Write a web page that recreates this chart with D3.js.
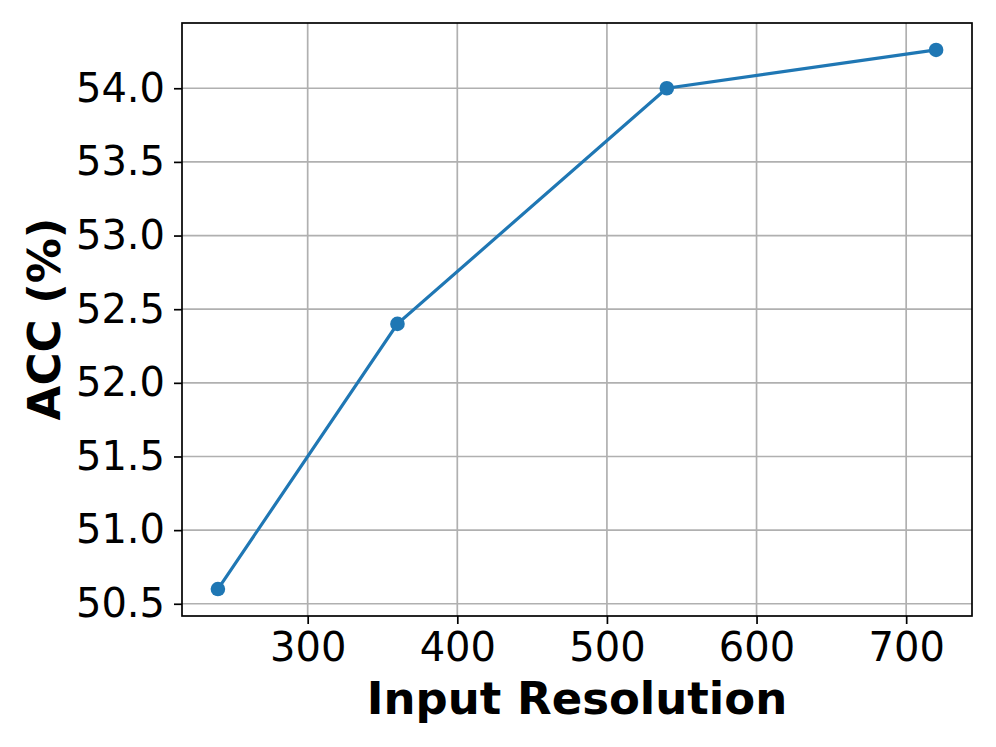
<!DOCTYPE html>
<html>
<head>
<meta charset="utf-8">
<script src="https://cdn.jsdelivr.net/npm/d3@7"></script>
<style>
  body { margin: 0; background: #fff; }
  svg { display: block; }
</style>
</head>
<body>
<div id="chart"></div>
<script>
const resolution = [240, 360, 540, 720];
const acc = [50.6, 52.4, 54.0, 54.26];
const xTicks = [300, 400, 500, 600, 700];
const yTicks = [50.5, 51.0, 51.5, 52.0, 52.5, 53.0, 53.5, 54.0];

const W = 996, H = 747;
const m = {top: 23, right: 24, bottom: 131, left: 182};

const svg = d3.select("#chart").append("svg")
    .attr("width", W)
    .attr("height", H);

const x = d3.scaleLinear()
    .domain([216, 744])
    .range([m.left, W - m.right]);
const y = d3.scaleLinear()
    .domain([50.417, 54.443])
    .range([H - m.bottom, m.top]);

const font = "DejaVu Sans, sans-serif";

// grid
svg.append("g")
  .selectAll("line")
  .data(xTicks)
  .join("line")
    .attr("x1", d => x(d)).attr("x2", d => x(d))
    .attr("y1", m.top).attr("y2", H - m.bottom)
    .attr("stroke", "#b0b0b0").attr("stroke-width", 1.7);
svg.append("g")
  .selectAll("line")
  .data(yTicks)
  .join("line")
    .attr("x1", m.left).attr("x2", W - m.right)
    .attr("y1", d => y(d)).attr("y2", d => y(d))
    .attr("stroke", "#b0b0b0").attr("stroke-width", 1.7);

// axes
const xAxis = g => g
    .attr("transform", `translate(0,${H - m.bottom})`)
    .call(d3.axisBottom(x).tickValues(xTicks).tickSize(8).tickPadding(9).tickSizeOuter(0))
    .call(g => g.select(".domain").remove())
    .call(g => g.selectAll(".tick line").attr("stroke", "#000").attr("stroke-width", 1.7))
    .call(g => g.selectAll(".tick text")
        .attr("fill", "#000")
        .style("font-family", font)
        .style("font-size", "40px"));

const yAxis = g => g
    .attr("transform", `translate(${m.left},0)`)
    .call(d3.axisLeft(y).tickValues(yTicks).tickFormat(d3.format(".1f")).tickSize(8).tickPadding(9))
    .call(g => g.select(".domain").remove())
    .call(g => g.selectAll(".tick line").attr("stroke", "#000").attr("stroke-width", 1.7))
    .call(g => g.selectAll(".tick text")
        .attr("fill", "#000")
        .style("font-family", font)
        .style("font-size", "40px"));

svg.append("g").call(xAxis);
svg.append("g").call(yAxis);

// frame
svg.append("rect")
    .attr("x", m.left).attr("y", m.top)
    .attr("width", W - m.right - m.left)
    .attr("height", H - m.bottom - m.top)
    .attr("fill", "none")
    .attr("stroke", "#000")
    .attr("stroke-width", 1.7);

// line + markers
const line = d3.line()
    .x((d, i) => x(resolution[i]))
    .y(d => y(d));

svg.append("path")
    .datum(acc)
    .attr("d", line)
    .attr("fill", "none")
    .attr("stroke", "#1f77b4")
    .attr("stroke-width", 3.2);

svg.append("g")
  .selectAll("circle")
  .data(acc)
  .join("circle")
    .attr("cx", (d, i) => x(resolution[i]))
    .attr("cy", d => y(d))
    .attr("r", 7.3)
    .attr("fill", "#1f77b4");

// labels
svg.append("text")
    .attr("x", 577)
    .attr("y", 714)
    .attr("text-anchor", "middle")
    .style("font-family", font)
    .style("font-weight", "bold")
    .style("font-size", "45px")
    .text("Input Resolution");

svg.append("text")
    .attr("transform", "translate(60,319) rotate(-90)")
    .attr("text-anchor", "middle")
    .style("font-family", font)
    .style("font-weight", "bold")
    .style("font-size", "45px")
    .text("ACC (%)");
</script>
</body>
</html>
